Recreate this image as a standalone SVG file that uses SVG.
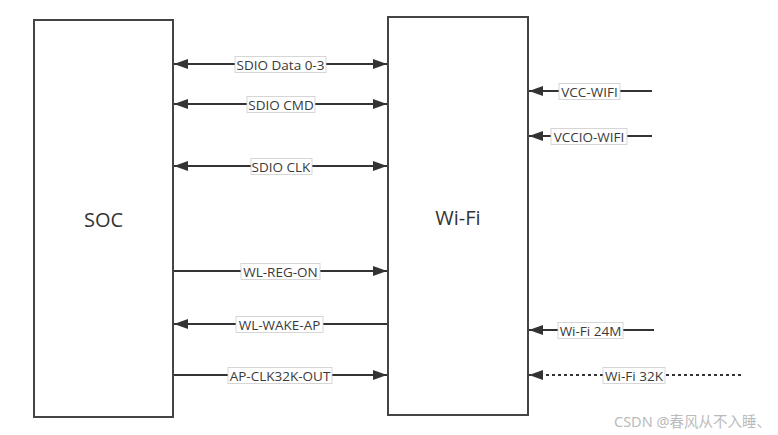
<svg xmlns="http://www.w3.org/2000/svg" width="778" height="435" viewBox="0 0 778 435">
<style>
.box{fill:#fff;stroke:#444;stroke-width:2}
.title{font-family:"Open Sans","Noto Sans",sans-serif;font-size:20px;fill:#333;text-anchor:middle;dominant-baseline:central}
.ln{stroke:#333;stroke-width:2;fill:none}
.dot{stroke:#333;stroke-width:2;fill:none;stroke-dasharray:3 3}
.lb{fill:#fff;stroke:#ccc;stroke-width:0.8}
.lt{font-family:"Open Sans","Noto Sans",sans-serif;font-size:13.5px;fill:#3a3a3a;text-anchor:middle;dominant-baseline:central}
.wm{font-family:"Noto Sans","Noto Sans CJK SC",sans-serif;font-size:14.5px;fill:#bbb}
</style>
<defs>
<marker id="ah" viewBox="0 0 14 10" refX="14" refY="5" markerWidth="14" markerHeight="10" markerUnits="userSpaceOnUse" orient="auto-start-reverse">
<path d="M0,0 L14,5 L0,10 Z" fill="#333"/>
</marker>
</defs>
<g id="soc"><rect class="box" x="34" y="20" width="139" height="397"/><text class="title" x="103.5" y="219">SOC</text></g>
<g id="wifi"><rect class="box" x="388" y="17" width="140" height="398"/><text class="title" x="458" y="217">Wi-Fi</text></g>
<g id="connectors">
<line class="ln" x1="174" y1="64" x2="387" y2="64" marker-start="url(#ah)" marker-end="url(#ah)"/>
<line class="ln" x1="174" y1="104" x2="387" y2="104" marker-start="url(#ah)" marker-end="url(#ah)"/>
<line class="ln" x1="174" y1="166" x2="387" y2="166" marker-start="url(#ah)" marker-end="url(#ah)"/>
<line class="ln" x1="174" y1="271" x2="387" y2="271" marker-end="url(#ah)"/>
<line class="ln" x1="387" y1="324" x2="174" y2="324" marker-end="url(#ah)"/>
<line class="ln" x1="174" y1="375" x2="387" y2="375" marker-end="url(#ah)"/>
<line class="ln" x1="652" y1="91" x2="529" y2="91" marker-end="url(#ah)"/>
<line class="ln" x1="652" y1="136" x2="529" y2="136" marker-end="url(#ah)"/>
<line class="ln" x1="654" y1="330" x2="529" y2="330" marker-end="url(#ah)"/>
<line class="dot" x1="741" y1="375" x2="529" y2="375" marker-end="url(#ah)"/>
<rect class="lb" x="235" y="56.5" width="91" height="16"/><text class="lt" x="280.5" y="64.5">SDIO Data 0-3</text>
<rect class="lb" x="247" y="96.5" width="68" height="16"/><text class="lt" x="281" y="104.5">SDIO CMD</text>
<rect class="lb" x="251" y="158.5" width="61" height="16"/><text class="lt" x="281" y="166.5">SDIO CLK</text>
<rect class="lb" x="241" y="263.5" width="79" height="16"/><text class="lt" x="280.5" y="271.5">WL-REG-ON</text>
<rect class="lb" x="236" y="316.5" width="87" height="16"/><text class="lt" x="279.5" y="324.5">WL-WAKE-AP</text>
<rect class="lb" x="228" y="367.5" width="104" height="16"/><text class="lt" x="280" y="375.5">AP-CLK32K-OUT</text>
<rect class="lb" x="559" y="83.5" width="61" height="16"/><text class="lt" x="589.5" y="91.5">VCC-WIFI</text>
<rect class="lb" x="551" y="128.5" width="76" height="16"/><text class="lt" x="589" y="136.5">VCCIO-WIFI</text>
<rect class="lb" x="558" y="322.5" width="65" height="16"/><text class="lt" x="590.5" y="330.5">Wi-Fi 24M</text>
<rect class="lb" x="603" y="367.5" width="62" height="16"/><text class="lt" x="634" y="375.5">Wi-Fi 32K</text>
</g>
<text class="wm" x="614" y="427">CSDN @春风从不入睡、</text>
</svg>
